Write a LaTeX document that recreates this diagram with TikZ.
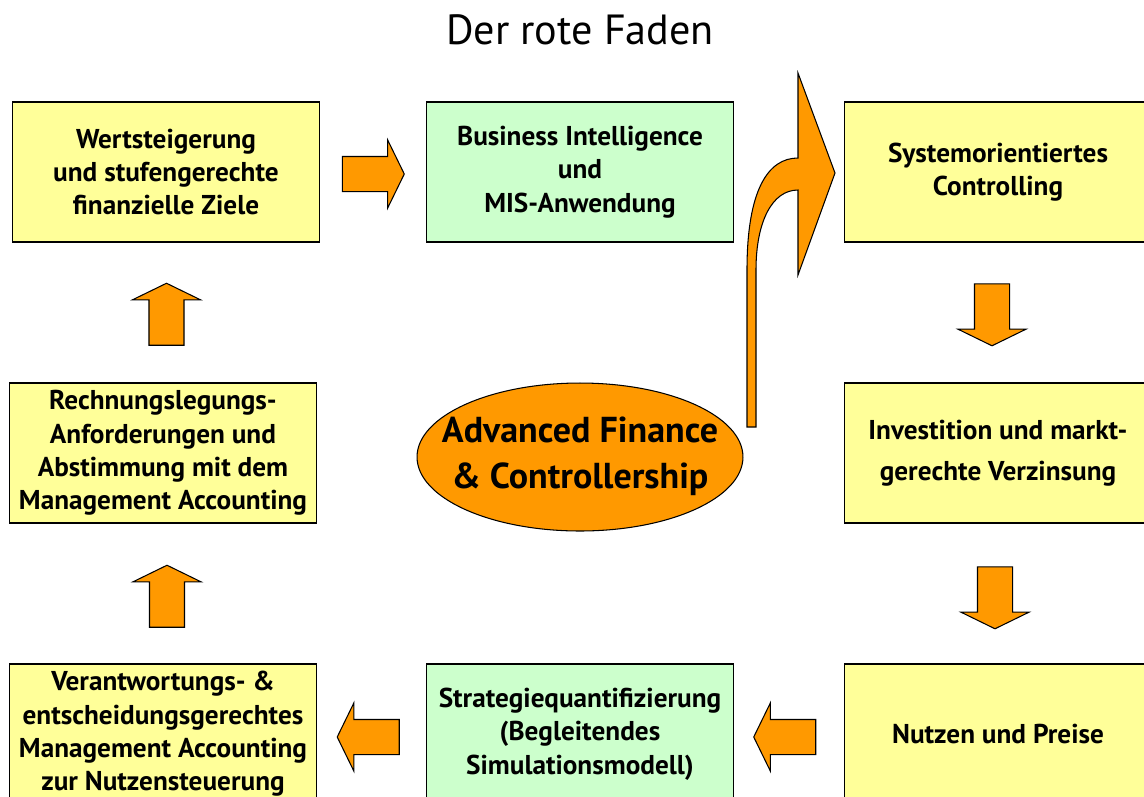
\documentclass[tikz,border=0pt]{standalone}
\usepackage{fontspec}
\setmainfont{PT Sans}
\usepackage{xcolor}
\usepackage{tikz}
\usetikzlibrary{shapes.geometric,shapes.arrows,positioning,calc}

\definecolor{boxyellow}{HTML}{FFFF99}
\definecolor{boxgreen}{HTML}{CCFFCC}
\definecolor{arroworange}{HTML}{FF9900}

\begin{document}
\begin{tikzpicture}[
    x=0.02cm, y=-0.02cm,
    ybox/.style={rectangle, draw, line width=0.6pt, fill=boxyellow, minimum width=6.14cm, minimum height=2.8cm, align=center, font=\bfseries\fontsize{15.5}{19}\selectfont},
    gbox/.style={ybox, fill=boxgreen},
    core/.style={ellipse, draw, line width=0.6pt, fill=arroworange, inner sep=0pt, minimum width=6.52cm, minimum height=2.96cm},
    coretext/.style={align=center, font=\bfseries\fontsize{20.5}{26}\selectfont},
    barrow/.style={single arrow, draw, line width=0.6pt, fill=arroworange, inner xsep=0pt, inner ysep=0.34cm, minimum height=1.24cm, minimum width=1.34cm, single arrow head extend=0.33cm, single arrow tip angle=128}
]
    \useasboundingbox (0,0) rectangle (1144,796);

    \node[font=\fontsize{24}{29}\selectfont] (head) at (580,30) {Der rote Faden};

    % boxes
    \node[ybox] (wert) at (166,172) {Wertsteigerung\\und stufengerechte\\finanzielle Ziele};
    \node[gbox] (bi) at (580,172) {Business Intelligence\\und\\MIS-Anwendung};
    \node[ybox] (sys) at (998,172) {Systemorientiertes\\Controlling};
    \node[ybox] (rech) at (163,453) {Rechnungslegungs-\\Anforderungen und\\Abstimmung mit dem\\Management Accounting};
    \node[ybox] (inv) at (998,453) {Investition und markt-\\[4pt]gerechte Verzinsung};
    \node[ybox] (verant) at (163,734) {Verantwortungs- \&\\entscheidungsgerechtes\\Management Accounting\\zur Nutzensteuerung};
    \node[gbox] (strat) at (580,734) {Strategiequantifizierung\\(Begleitendes\\Simulationsmodell)};
    \node[ybox] (nutzen) at (998,734) {Nutzen und Preise};

    \node[core] (afc) at (580,457) {};
    \node[coretext] (afclabel) at ($(afc.center)+(0,-1)$) {Advanced Finance\\\& Controllership};

    % block arrows
    \node[barrow] (a1) at ($(wert.east)!0.5!(bi.west)+(-4,2)$) {};
    \node[barrow, rotate=-90] (a2) at ($(sys.south)!0.5!(inv.north)+(-6,-2)$) {};
    \node[barrow, rotate=-90] (a3) at ($(inv.south)!0.5!(nutzen.north)+(-3,0)$) {};
    \node[barrow, rotate=180] (a4) at ($(nutzen.west)!0.5!(strat.east)+(0,3)$) {};
    \node[barrow, rotate=180] (a5) at ($(strat.west)!0.5!(verant.east)+(1,3)$) {};
    \node[barrow, rotate=90] (a6) at ($(verant.north)!0.5!(rech.south)+(4,7)$) {};
    \node[barrow, rotate=90] (a7) at ($(rech.north)!0.5!(wert.south)+(2,6)$) {};

    % bent arrow from the core up to the controlling box
    \draw[line width=0.6pt, fill=arroworange]
        (747,427) -- (747,270) .. controls (747,190) and (768,158) .. (798,158)
        -- (798,73) -- (835,173) -- (798,275) -- (798,190)
        .. controls (772,190) and (756,222) .. (756,270) -- (756,427) -- cycle;
\end{tikzpicture}
\end{document}
